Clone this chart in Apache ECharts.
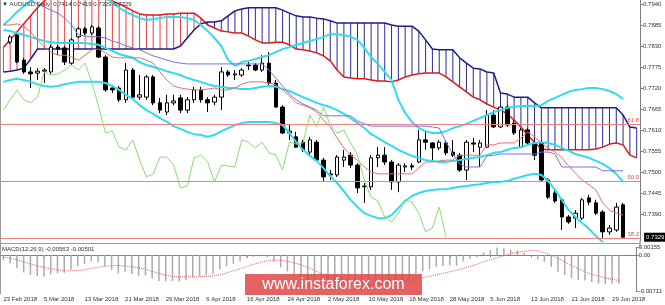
<!DOCTYPE html>
<html><head><meta charset="utf-8">
<script src="https://cdn.jsdelivr.net/npm/echarts@6/dist/echarts.min.js"></script>
<style>html,body{margin:0;padding:0;background:#fff}#c{width:665px;height:305px}</style>
</head><body><div id="c"></div>
<script>
// ---- price data (daily bars, index 0 = 22 Feb 2018, 91 = 29 Jun 2018) ----
const opens = [null,0.7840,0.7859,0.7793,0.7762,0.7759,0.7764,0.7762,0.7827,0.7825,
 0.7785,0.7854,0.7875,0.7864,0.7877,0.7801,0.7720,0.7720,0.7689,0.7767,
 0.7696,0.7696,0.7749,0.7681,0.7657,0.7681,0.7694,0.7662,0.7689,0.7715,
 0.7689,0.7683,0.7696,0.7762,0.7754,0.7754,0.7778,0.7780,0.7767,0.7785,
 0.7733,0.7670,0.7602,0.7592,0.7578,0.7552,0.7578,0.7531,0.7492,0.7492,
 0.7531,0.7544,0.7518,0.7461,0.7461,0.7537,0.7544,0.7526,0.7474,0.7513,
 0.7516,0.7526,0.7584,0.7576,0.7563,0.7576,0.7552,0.7544,0.7505,0.7576,
 0.7565,0.7565,0.7649,0.7618,0.7670,0.7628,0.7565,0.7610,0.7576,0.7576,
 0.7479,0.7445,0.7427,0.7382,0.7379,0.7379,0.7432,0.7419,0.7395,0.7343,
 0.7348,0.7414];
const closes = [null,0.7854,0.7788,0.7762,0.7757,0.7764,0.7767,0.7827,0.7822,0.7788,
 0.7846,0.7875,0.7864,0.7880,0.7801,0.7715,0.7715,0.7689,0.7767,0.7696,
 0.7702,0.7749,0.7681,0.7662,0.7681,0.7686,0.7662,0.7689,0.7715,0.7689,
 0.7681,0.7696,0.7762,0.7754,0.7757,0.7767,0.7780,0.7767,0.7785,0.7733,
 0.7670,0.7602,0.7607,0.7565,0.7558,0.7584,0.7531,0.7487,0.7495,0.7539,
 0.7539,0.7518,0.7458,0.7463,0.7537,0.7544,0.7526,0.7474,0.7518,0.7516,
 0.7513,0.7584,0.7578,0.7563,0.7578,0.7550,0.7544,0.7505,0.7578,0.7573,
 0.7576,0.7649,0.7618,0.7670,0.7623,0.7602,0.7610,0.7576,0.7544,0.7479,
 0.7434,0.7424,0.7382,0.7369,0.7392,0.7427,0.7421,0.7392,0.7343,0.7353,
 0.7408,0.7329];
const lows = [null,0.7835,0.7785,0.7757,0.7720,0.7741,0.7733,0.7757,0.7806,0.7780,
 0.7780,0.7851,0.7859,0.7859,0.7799,0.7710,0.7707,0.7683,0.7681,0.7691,
 0.7689,0.7689,0.7675,0.7654,0.7649,0.7675,0.7654,0.7654,0.7681,0.7681,
 0.7657,0.7675,0.7662,0.7749,0.7741,0.7749,0.7767,0.7764,0.7762,0.7728,
 0.7668,0.7599,0.7584,0.7563,0.7552,0.7544,0.7526,0.7474,0.7479,0.7487,
 0.7513,0.7510,0.7445,0.7419,0.7453,0.7513,0.7518,0.7453,0.7447,0.7500,
 0.7505,0.7523,0.7558,0.7526,0.7558,0.7544,0.7539,0.7500,0.7479,0.7552,
 0.7513,0.7563,0.7615,0.7615,0.7618,0.7597,0.7563,0.7571,0.7531,0.7474,
 0.7429,0.7419,0.7348,0.7364,0.7353,0.7374,0.7413,0.7387,0.7327,0.7335,
 0.7343,0.7329];
const highs = [null,0.7859,0.7864,0.7799,0.7775,0.7772,0.7772,0.7833,0.7833,0.7830,
 0.7851,0.7880,0.7880,0.7885,0.7882,0.7806,0.7728,0.7725,0.7785,0.7772,
 0.7754,0.7754,0.7754,0.7694,0.7702,0.7702,0.7702,0.7696,0.7723,0.7723,
 0.7696,0.7702,0.7775,0.7767,0.7767,0.7772,0.7788,0.7785,0.7806,0.7814,
 0.7741,0.7675,0.7623,0.7605,0.7584,0.7592,0.7584,0.7537,0.7505,0.7544,
 0.7558,0.7552,0.7523,0.7471,0.7544,0.7565,0.7565,0.7531,0.7523,0.7523,
 0.7523,0.7610,0.7605,0.7578,0.7584,0.7584,0.7584,0.7550,0.7584,0.7589,
 0.7584,0.7662,0.7662,0.7675,0.7675,0.7636,0.7615,0.7615,0.7589,0.7584,
 0.7484,0.7453,0.7432,0.7387,0.7400,0.7432,0.7440,0.7427,0.7400,0.7361,
 0.7419,0.7419];

// ---- Ichimoku ----
const tenkan = [0.7885,0.7885,0.7888,0.7882,0.7867,0.7846,0.7827,0.7814,0.7806,0.7806,
 0.7801,0.7793,0.7806,0.7820,0.7822,0.7812,0.7801,0.7799,0.7799,0.7799,
 0.7799,0.7793,0.7785,0.7762,0.7741,0.7725,0.7720,0.7717,0.7715,0.7715,
 0.7717,0.7720,0.7715,0.7715,0.7720,0.7730,0.7736,0.7736,0.7736,0.7733,
 0.7728,0.7715,0.7699,0.7681,0.7675,0.7668,0.7657,0.7636,0.7618,0.7589,
 0.7563,0.7544,0.7531,0.7513,0.7500,0.7495,0.7495,0.7495,0.7495,0.7495,
 0.7495,0.7510,0.7526,0.7526,0.7529,0.7531,0.7531,0.7544,0.7544,0.7544,
 0.7544,0.7571,0.7571,0.7576,0.7576,0.7576,0.7589,0.7605,0.7592,0.7576,
 0.7563,0.7552,0.7537,0.7516,0.7497,0.7479,0.7466,0.7453,0.7419,0.7400,
 0.7392,0.7387];
const kijun = [0.7971,0.7966,0.7961,0.7956,0.7950,0.7940,0.7932,0.7924,0.7916,0.7903,
 0.7885,0.7859,0.7856,0.7854,0.7854,0.7851,0.7843,0.7838,0.7830,0.7825,
 0.7820,0.7812,0.7804,0.7799,0.7793,0.7788,0.7785,0.7783,0.7783,0.7783,
 0.7783,0.7783,0.7783,0.7783,0.7783,0.7783,0.7783,0.7783,0.7783,0.7767,
 0.7746,0.7725,0.7704,0.7689,0.7678,0.7670,0.7662,0.7647,0.7647,0.7647,
 0.7647,0.7647,0.7634,0.7626,0.7620,0.7620,0.7620,0.7620,0.7620,0.7620,
 0.7620,0.7620,0.7620,0.7618,0.7615,0.7578,0.7547,0.7521,0.7513,0.7513,
 0.7513,0.7542,0.7544,0.7547,0.7547,0.7547,0.7547,0.7547,0.7547,0.7552,
 0.7552,0.7547,0.7513,0.7513,0.7513,0.7513,0.7513,0.7513,0.7503,0.7503,
 0.7503,0.7503];
const spanA = [0.7827,0.7846,0.7867,0.7888,0.7909,0.7930,0.7948,0.7964,0.7971,0.7977,
 0.7977,0.7977,0.7974,0.7969,0.7961,0.7953,0.7948,0.7940,0.7932,0.7922,
 0.7914,0.7911,0.7911,0.7911,0.7914,0.7914,0.7916,0.7916,0.7916,0.7903,
 0.7885,0.7877,0.7869,0.7867,0.7864,0.7864,0.7856,0.7846,0.7838,0.7838,
 0.7840,0.7840,0.7833,0.7822,0.7820,0.7817,0.7812,0.7804,0.7791,0.7767,
 0.7749,0.7746,0.7744,0.7744,0.7741,0.7738,0.7738,0.7736,0.7741,0.7749,
 0.7754,0.7757,0.7759,0.7759,0.7759,0.7749,0.7736,0.7723,0.7710,0.7696,
 0.7689,0.7678,0.7670,0.7662,0.7652,0.7636,0.7618,0.7597,0.7578,0.7560,
 0.7558,0.7558,0.7558,0.7558,0.7558,0.7558,0.7558,0.7560,0.7565,0.7573,
 0.7576,0.7571,0.7544,0.7537];
const spanB = [0.7762,0.7764,0.7767,0.7772,0.7796,0.7822,0.7822,0.7822,0.7822,0.7822,
 0.7822,0.7822,0.7822,0.7822,0.7822,0.7822,0.7822,0.7822,0.7822,0.7822,
 0.7822,0.7822,0.7822,0.7822,0.7822,0.7822,0.7830,0.7851,0.7872,0.7888,
 0.7893,0.7893,0.7896,0.7909,0.7922,0.7927,0.7930,0.7930,0.7930,0.7930,
 0.7930,0.7924,0.7916,0.7909,0.7906,0.7906,0.7903,0.7901,0.7896,0.7890,
 0.7890,0.7890,0.7890,0.7890,0.7890,0.7890,0.7890,0.7885,0.7882,0.7882,
 0.7882,0.7869,0.7846,0.7822,0.7820,0.7820,0.7820,0.7799,0.7785,0.7772,
 0.7770,0.7762,0.7759,0.7707,0.7704,0.7696,0.7696,0.7696,0.7681,0.7668,
 0.7668,0.7668,0.7668,0.7668,0.7668,0.7668,0.7668,0.7668,0.7668,0.7668,
 0.7668,0.7649,0.7618,0.7615];
const chikou = [0.7662,0.7689,0.7715,0.7689,0.7681,0.7696,0.7762,0.7754,0.7757,0.7767,
 0.7780,0.7767,0.7785,0.7733,0.7670,0.7602,0.7607,0.7565,0.7558,0.7584,
 0.7531,0.7487,0.7495,0.7539,0.7539,0.7518,0.7458,0.7463,0.7537,0.7544,
 0.7526,0.7474,0.7518,0.7516,0.7513,0.7584,0.7578,0.7563,0.7578,0.7550,
 0.7544,0.7505,0.7578,0.7573,0.7576,0.7649,0.7618,0.7670,0.7623,0.7602,
 0.7610,0.7576,0.7544,0.7479,0.7434,0.7424,0.7382,0.7369,0.7392,0.7427,
 0.7421,0.7392,0.7343,0.7353,0.7408,0.7329];

// ---- Bollinger bands ----
const bbUpper = [0.7885,0.7901,0.7919,0.7935,0.7948,0.7958,0.7966,0.7971,0.7974,0.7977,
 0.7977,0.7977,0.7974,0.7971,0.7966,0.7958,0.7945,0.7930,0.7919,0.7911,
 0.7903,0.7898,0.7901,0.7903,0.7906,0.7906,0.7906,0.7903,0.7898,0.7885,
 0.7869,0.7851,0.7830,0.7793,0.7778,0.7788,0.7791,0.7796,0.7801,0.7806,
 0.7814,0.7822,0.7827,0.7833,0.7838,0.7843,0.7848,0.7854,0.7861,0.7861,
 0.7859,0.7854,0.7846,0.7825,0.7801,0.7783,0.7762,0.7741,0.7689,0.7654,
 0.7631,0.7615,0.7607,0.7602,0.7602,0.7607,0.7615,0.7620,0.7626,0.7634,
 0.7641,0.7649,0.7657,0.7662,0.7668,0.7670,0.7673,0.7673,0.7673,0.7675,
 0.7686,0.7694,0.7702,0.7710,0.7715,0.7717,0.7720,0.7720,0.7717,0.7712,
 0.7704,0.7691];
const bbMid = [0.7872,0.7869,0.7864,0.7859,0.7854,0.7848,0.7843,0.7840,0.7838,0.7838,
 0.7838,0.7838,0.7838,0.7835,0.7833,0.7825,0.7817,0.7809,0.7804,0.7799,
 0.7788,0.7780,0.7775,0.7770,0.7764,0.7759,0.7754,0.7746,0.7741,0.7736,
 0.7730,0.7725,0.7723,0.7720,0.7720,0.7717,0.7717,0.7720,0.7723,0.7725,
 0.7723,0.7717,0.7712,0.7704,0.7696,0.7689,0.7681,0.7675,0.7670,0.7662,
 0.7652,0.7641,0.7628,0.7615,0.7599,0.7589,0.7578,0.7568,0.7558,0.7550,
 0.7542,0.7537,0.7531,0.7529,0.7526,0.7526,0.7529,0.7531,0.7534,0.7537,
 0.7539,0.7544,0.7550,0.7552,0.7558,0.7563,0.7565,0.7571,0.7576,0.7578,
 0.7576,0.7571,0.7563,0.7555,0.7547,0.7542,0.7537,0.7529,0.7521,0.7510,
 0.7495,0.7474];
const bbLower = [0.7736,0.7741,0.7744,0.7741,0.7736,0.7730,0.7725,0.7723,0.7725,0.7730,
 0.7733,0.7736,0.7736,0.7736,0.7736,0.7733,0.7725,0.7715,0.7702,0.7691,
 0.7675,0.7662,0.7652,0.7641,0.7631,0.7620,0.7613,0.7605,0.7599,0.7597,
 0.7592,0.7597,0.7607,0.7615,0.7623,0.7628,0.7631,0.7631,0.7631,0.7631,
 0.7628,0.7623,0.7602,0.7578,0.7558,0.7542,0.7529,0.7510,0.7489,0.7471,
 0.7450,0.7427,0.7408,0.7392,0.7385,0.7379,0.7379,0.7387,0.7406,0.7424,
 0.7437,0.7445,0.7450,0.7453,0.7455,0.7455,0.7458,0.7461,0.7463,0.7466,
 0.7468,0.7471,0.7474,0.7474,0.7476,0.7482,0.7487,0.7492,0.7495,0.7492,
 0.7476,0.7453,0.7427,0.7400,0.7382,0.7366,0.7351,0.7332,0.7317,0.7304,
 0.7290,0.7277];

// ---- MACD(12,26,9) ----
const macdMain = [-0.0010,-0.0016,-0.0026,-0.0034,-0.0039,-0.0041,-0.0042,-0.0038,-0.0036,-0.0035,
 -0.0029,-0.0022,-0.0017,-0.0012,-0.0014,-0.0022,-0.0029,-0.0036,-0.0033,-0.0038,
 -0.0041,-0.0040,-0.0046,-0.0051,-0.0052,-0.0051,-0.0052,-0.0049,-0.0044,-0.0042,
 -0.0040,-0.0037,-0.0028,-0.0022,-0.0017,-0.0012,-0.0006,-0.0003,0.0001,-0.0004,
 -0.0012,-0.0024,-0.0032,-0.0041,-0.0049,-0.0052,-0.0058,-0.0066,-0.0070,-0.0068,
 -0.0067,-0.0066,-0.0070,-0.0071,-0.0064,-0.0059,-0.0056,-0.0058,-0.0054,-0.0051,
 -0.0048,-0.0038,-0.0032,-0.0028,-0.0023,-0.0021,-0.0020,-0.0021,-0.0012,-0.0007,
 -0.0004,0.0006,0.0010,0.00155,0.0014,0.0011,0.0009,0.0005,0.0001,-0.0008,
 -0.0013,-0.0023,-0.0033,-0.0039,-0.0045,-0.0049,-0.0050,-0.0053,-0.0056,-0.0057,
 -0.0056,-0.00563];
const macdSignal = [-0.0003,-0.0006,-0.0009,-0.0013,-0.0017,-0.0021,-0.0024,-0.0027,-0.0029,-0.0031,
 -0.0031,-0.0030,-0.0029,-0.0026,-0.0024,-0.0022,-0.0021,-0.0020,-0.0021,-0.0023,
 -0.0025,-0.0028,-0.0032,-0.0036,-0.0040,-0.0042,-0.0043,-0.0043,-0.0043,-0.0043,
 -0.0042,-0.0041,-0.0039,-0.0035,-0.0031,-0.0027,-0.0022,-0.0018,-0.0014,-0.0011,
 -0.0010,-0.0010,-0.0012,-0.0015,-0.0019,-0.0024,-0.0030,-0.0036,-0.0042,-0.0047,
 -0.0051,-0.0054,-0.0056,-0.0057,-0.0058,-0.0058,-0.0057,-0.0056,-0.0055,-0.0053,
 -0.0051,-0.0048,-0.0045,-0.0042,-0.0039,-0.0036,-0.0033,-0.0030,-0.0026,-0.0022,
 -0.0018,-0.0013,-0.0009,-0.0005,-0.0001,0.0003,0.0006,0.0008,0.0010,0.0009,
 0.0005,0.0000,-0.0006,-0.0013,-0.0020,-0.0027,-0.0033,-0.0038,-0.0042,-0.0045,
 -0.0048,-0.00501];

// ---- levels and tick labels ----
const fibLevels = [0.7626, 0.7476, 0.7326];
const fibLabels = ['61.8', '50.0', '38.2'];
const lastPrice = 0.7329;
const priceTicks = [0.7940,0.7885,0.7830,0.7775,0.7720,0.7665,0.7610,0.7555,0.7500,0.7445,0.7390];
const macdTicks = [0.00155, 0, -0.00711];
const dateTickIdx = [1,7,13,19,25,31,37,43,49,55,61,67,73,79,85,91];
const dateTicks = ['23 Feb 2018','5 Mar 2018','13 Mar 2018','21 Mar 2018','29 Mar 2018','6 Apr 2018',
 '16 Apr 2018','24 Apr 2018','2 May 2018','10 May 2018','18 May 2018','28 May 2018',
 '5 Jun 2018','13 Jun 2018','21 Jun 2018','29 Jun 2018'];

const N = 94;
const cats = Array.from({length: N}, (_, i) => String(i));
// MT4 prints each date starting just left of its bar
const labelAt = {};
dateTickIdx.forEach((b, k) => { labelAt[b - 1] = dateTicks[k]; });
const showLbl = (idx) => labelAt[idx] !== undefined;

const FONT = 'Liberation Sans, Arial, sans-serif';
const ln = (data, color, width, z, extra) => Object.assign({
  type: 'line', xAxisIndex: 0, yAxisIndex: 0, data, symbol: 'none', silent: true,
  lineStyle: {color, width}, itemStyle: {color}, z
}, extra || {});

const chart = echarts.init(document.getElementById('c'));
chart.setOption({
  animation: false,
  backgroundColor: '#fff',
  textStyle: {fontFamily: FONT},
  title: [
    {text: '\u25BC AUDUSD,Daily  0.7414 0.7419 0.7329 0.7329', left: 2, top: 1, padding: 0,
     textStyle: {fontSize: 6, fontWeight: 'normal', color: '#333', fontFamily: FONT}},
    {text: 'MACD(12,26,9) -0.00563 -0.00501', left: 2, top: 246, padding: 0,
     textStyle: {fontSize: 6, fontWeight: 'normal', color: '#333', fontFamily: FONT}}
  ],
  grid: [
    {left: -1.9, top: 0, width: 642, height: 241},
    {left: -1.9, top: 247.5, width: 642, height: 43.5}
  ],
  xAxis: [
    {type: 'category', gridIndex: 0, data: cats, boundaryGap: true,
     axisLine: {show: false}, axisTick: {show: false}, axisLabel: {show: false}, splitLine: {show: false}},
    {type: 'category', gridIndex: 1, data: cats, boundaryGap: true, offset: 2.5,
     axisLine: {show: true, lineStyle: {color: '#808080', width: 1}},
     axisTick: {show: true, alignWithLabel: true, interval: showLbl, length: 2, lineStyle: {color: '#808080'}},
     axisLabel: {show: true, interval: showLbl, formatter: (v, idx) => labelAt[idx] || '',
       align: 'left', fontSize: 6, color: '#333', margin: 3}, splitLine: {show: false}}
  ],
  yAxis: [
    {type: 'value', gridIndex: 0, position: 'right', min: 0.73191, max: 0.79505,
     axisLine: {show: true, lineStyle: {color: '#808080'}},
     axisTick: {show: true, length: 3, customValues: priceTicks, lineStyle: {color: '#808080'}},
     axisLabel: {show: true, customValues: priceTicks, formatter: v => v.toFixed(4),
       fontSize: 6, color: '#333', margin: 3},
     splitLine: {show: false}},
    {type: 'value', gridIndex: 1, position: 'right', min: -0.00711, max: 0.00155,
     axisLine: {show: true, lineStyle: {color: '#808080'}},
     axisTick: {show: true, length: 3, customValues: macdTicks, lineStyle: {color: '#808080'}},
     axisLabel: {show: true, customValues: macdTicks, formatter: v => (v === 0 ? '0.00' : v.toFixed(5)),
       fontSize: 6, color: '#333', margin: 3},
     splitLine: {show: false}}
  ],
  series: [
    {type: 'custom', name: 'cloud', xAxisIndex: 0, yAxisIndex: 0, z: 1, silent: true, clip: true,
     data: spanA.map((a, i) => [i, a, spanB[i]]),
     encode: {x: 0, y: [1, 2]},
     renderItem: (params, api) => {
       const i = api.value(0), a = api.value(1), b = api.value(2);
       const p1 = api.coord([i, a]), p2 = api.coord([i, b]);
       return {type: 'line', shape: {x1: p1[0], y1: p1[1], x2: p2[0], y2: p2[1]},
               style: {stroke: a > b ? '#e23a3a' : '#2a2a92', lineWidth: 1}};
     }},
    ln(spanA, '#e01818', 1.5, 2),
    ln(spanB, '#1c1c8c', 1.5, 2),
    {type: 'candlestick', xAxisIndex: 0, yAxisIndex: 0, z: 3, barWidth: 4, silent: true,
     data: opens.map((o, i) => o == null ? '-' : [o, closes[i], lows[i], highs[i]]),
     itemStyle: {color: '#ffffff', color0: '#000000', borderColor: '#000000', borderColor0: '#000000', borderWidth: 1},
     markLine: {
       silent: true, symbol: ['none', 'none'], precision: 4,
       lineStyle: {color: '#ee8080', width: 1, type: 'solid'},
       label: {position: 'insideEndTop', color: '#e05050', fontSize: 6, distance: 1},
       data: fibLevels.map((v, k) => ({yAxis: v, label: {formatter: fibLabels[k]}}))
     }},
    {type: 'line', xAxisIndex: 0, yAxisIndex: 0, data: [], silent: true, z: 20,
     markLine: {
       silent: true, symbol: ['none', 'none'], precision: 4,
       lineStyle: {color: 'rgba(0,0,0,0)', width: 1},
       label: {show: true, position: 'end', formatter: lastPrice.toFixed(4), backgroundColor: '#000000',
               color: '#ffffff', padding: [2, 2, 1, 2], fontSize: 6, distance: 4},
       data: [{yAxis: lastPrice}]
     }},
    ln(bbUpper, '#2fdced', 2, 4),
    ln(bbMid, '#2fdced', 2, 4),
    ln(bbLower, '#2fdced', 2, 4),
    ln(kijun, '#7a72d8', 1, 5),
    ln(tenkan, '#dc7272', 1, 5),
    ln(chikou, '#86dd6e', 1, 5),
    {type: 'bar', xAxisIndex: 1, yAxisIndex: 1, data: macdMain, barWidth: 1.5, silent: true,
     itemStyle: {color: '#aaaaaa'}, z: 2},
    {type: 'line', xAxisIndex: 1, yAxisIndex: 1, data: macdSignal, symbol: 'none', silent: true,
     lineStyle: {color: '#e06060', width: 1, type: 'dotted'}, z: 3}
  ],
  graphic: [
    {type: 'line', shape: {x1: 0.5, y1: 0, x2: 0.5, y2: 294}, style: {stroke: '#9a9a9a', lineWidth: 1}, z: 50},
    {type: 'line', shape: {x1: 0, y1: 243.5, x2: 640.1, y2: 243.5}, style: {stroke: '#9a9a9a', lineWidth: 1}, z: 50},
    {type: 'line', shape: {x1: 640.1, y1: 240, x2: 640.1, y2: 248}, style: {stroke: '#808080', lineWidth: 1}, z: 50},
    {type: 'group', z: 100, children: [
      {type: 'rect', shape: {x: 245, y: 274, width: 177, height: 21},
       style: {fill: 'rgba(222,70,70,0.85)'}, z: 100},
      {type: 'text', x: 333.5, y: 284.5, z: 101,
       style: {text: 'www.instaforex.com', fill: '#ffffff', font: '16px "Liberation Sans", Arial, sans-serif',
               textAlign: 'center', textVerticalAlign: 'middle'}}
    ]}
  ]
});
</script>
</body></html>
